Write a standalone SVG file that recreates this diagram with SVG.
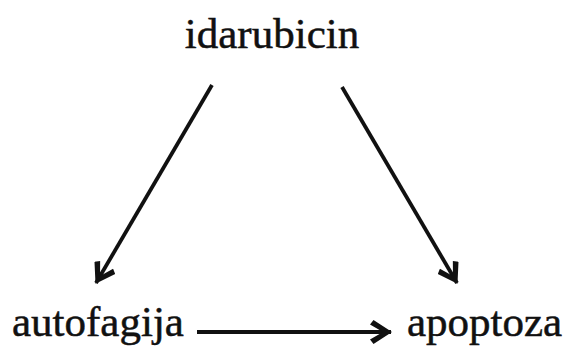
<svg xmlns="http://www.w3.org/2000/svg" width="568" height="347" viewBox="0 0 568 347">
<style>
text{font-family:"Liberation Serif","Times New Roman",serif;font-size:43px;fill:#111;stroke:#111;stroke-width:0.5}
.c line{stroke:#111;stroke-width:3.8;fill:none}
</style>
<defs>
<marker id="ah" viewBox="0 0 22 24" refX="21" refY="12" markerWidth="22" markerHeight="24" orient="auto" markerUnits="userSpaceOnUse">
<path d="M22,12 L3.5,0 L0,4.5 L13,12 L0,19.5 L3.5,24 Z" fill="#111"/>
</marker>
</defs>
<rect width="568" height="347" fill="#fff"/>
<g id="idarubicin"><text x="272" y="48" text-anchor="middle">idarubicin</text></g>
<g id="autofagija"><text x="12" y="336">autofagija</text></g>
<g id="apoptoza"><text x="407" y="336">apoptoza</text></g>
<g class="c" id="connectors">
<line x1="212" y1="85" x2="96" y2="283" marker-end="url(#ah)"/>
<line x1="342" y1="87" x2="457" y2="283" marker-end="url(#ah)"/>
<line x1="197" y1="332" x2="391" y2="332" marker-end="url(#ah)"/>
</g>
</svg>
